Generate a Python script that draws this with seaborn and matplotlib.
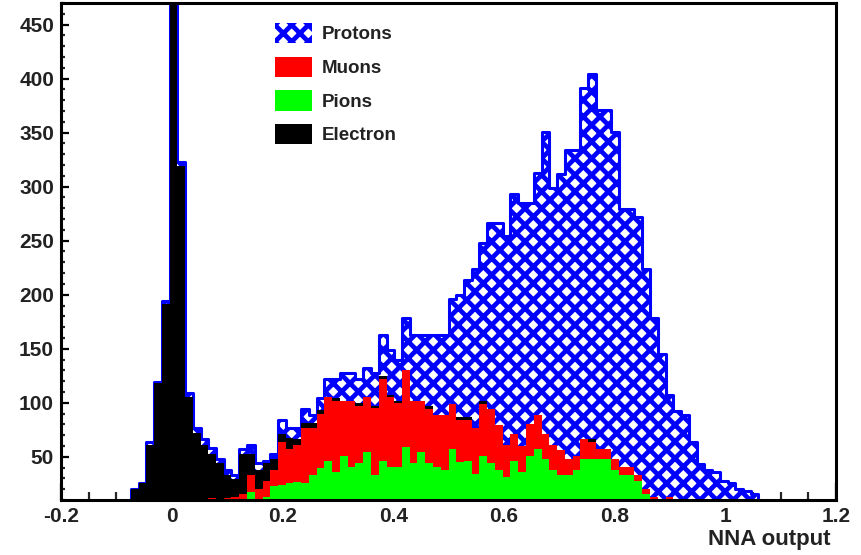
import numpy as np
import pandas as pd
import seaborn as sns
import matplotlib
matplotlib.use("Agg")
import matplotlib.pyplot as plt
from matplotlib.patches import Patch
from matplotlib.ticker import MultipleLocator, FuncFormatter

# ---------------- data (100 bins on [-0.2, 1.2]; values given for bins 9..89) ----------------
x_min, x_max, n_bins = -0.2, 1.2, 100
first_bin = 9

pions = [0, 0, 0, 0, 0, 0, 0, 0, 0, 0, 0, 0, 0, 0, 0,
         17, 5, 13, 23, 24, 26, 27, 26, 33, 40, 46, 36, 51, 41, 44, 54, 33, 46, 41, 41,
         59, 44, 54, 44, 41, 38, 57, 45, 46, 34, 51, 44, 38, 31, 46, 36, 51, 57, 48, 38,
         33, 33, 38, 48, 48, 48, 48, 38, 33, 33, 28, 16,
         0, 0, 0, 0, 0, 0, 0, 0, 0, 0, 0, 0, 0, 0]

muons = [0, 0, 0, 0, 0, 0, 0, 0, 0,
         5, 12, 5, 12, 13, 16, 16, 15, 15, 15, 40, 31, 34, 51, 44, 50, 59, 66, 51, 61,
         53, 51, 62, 76, 64, 59, 71, 58, 48, 50, 48, 51, 42, 39, 38, 43, 48, 50, 41, 30,
         25, 24, 29, 32, 23, 23, 23, 15, 13, 18, 16, 9, 9, 10, 8, 8, 5, 4, 13, 0, 13,
         0, 0, 0, 0, 0, 0, 0, 0, 0, 0, 0]

electrons = [20, 26, 61, 118, 191, 500, 319, 105, 72, 56, 41, 39, 21, 16, 37, 20, 18,
             16, 10, 7, 10, 5, 4, 4, 3, 0, 2, 0, 0, 3, 0, 2, 3, 2, 2, 0, 0, 0, 3, 0,
             0, 0, 3, 3, 0, 3,
             0, 0, 0, 0, 0, 0, 0, 0, 0, 0, 0, 0, 0, 2,
             0, 0, 0, 0, 0, 0, 0, 0, 0, 0, 0, 0, 0, 0, 0, 0, 0, 0, 0, 0, 0]

protons = [0, 0, 3, 1, 3, 2, 4, 4, 5, 5, 5, 4, 5, 4, 4, 8, 6, 2, 5, 13, 10, 11, 13, 8,
           11, 17, 18, 26, 26, 22, 27, 31, 38, 42, 38, 48, 61, 61, 66, 74, 74, 97, 113,
           127, 147, 146, 172, 187, 193, 222, 225, 205, 224, 280, 238, 256, 286, 283,
           325, 338, 314, 314, 303, 238, 238, 239, 204, 165, 145, 94, 92, 89, 64, 43,
           38, 36, 28, 26, 20, 18, 16]

labels = ["Protons", "Muons", "Pions", "Electron"]
x_ticks = [-0.2, 0, 0.2, 0.4, 0.6, 0.8, 1, 1.2]
y_ticks = [50, 100, 150, 200, 250, 300, 350, 400, 450]

# ---------------- styling ----------------
sns.set_theme(style="white")
plt.rcParams["font.family"] = ["Liberation Sans", "DejaVu Sans"]
plt.rcParams["axes.unicode_minus"] = False
plt.rcParams["hatch.linewidth"] = 3.4
plt.rcParams["hatch.color"] = "#0000ff"

edges = np.linspace(x_min, x_max, n_bins + 1)
centers = 0.5 * (edges[:-1] + edges[1:])


def full(arr):
    out = np.zeros(n_bins)
    out[first_bin:first_bin + len(arr)] = arr
    return out


pi_a, mu_a, el_a, pr_a = full(pions), full(muons), full(electrons), full(protons)
# stacked order (bottom -> top): pions, muons, electrons, protons
lvl_pions = pi_a
lvl_muons = lvl_pions + mu_a
lvl_elec = lvl_muons + el_a
lvl_prot = lvl_elec + pr_a

df = pd.DataFrame({"x": centers, "Protons": lvl_prot, "Electron": lvl_elec,
                   "Muons": lvl_muons, "Pions": lvl_pions})

fig = plt.figure(figsize=(8.61, 5.55), dpi=100)
ax = fig.add_axes([61 / 861, 55 / 555, 775 / 861, 497 / 555])

colors = {"Protons": "#0000ff", "Electron": "#000000", "Muons": "#ff0000", "Pions": "#00ff00"}

for name in ["Protons", "Electron", "Muons", "Pions"]:
    n_before = len(ax.collections)
    sns.histplot(data=df, x="x", weights=name, bins=n_bins, binrange=(x_min, x_max),
                 element="step", fill=True, color=colors[name], alpha=1, ax=ax)
    poly = ax.collections[n_before]
    if name == "Protons":
        poly.set_facecolor("white")
        poly.set_edgecolor("#0000ff")
        poly.set_hatch("xx")
        poly.set_linewidth(2.2)
    else:
        poly.set_facecolor(colors[name])
        poly.set_edgecolor(colors[name])
        poly.set_linewidth(0.0)

ax.set_xlim(x_min, x_max)
ax.set_ylim(10, 470)
ax.set_ylabel("")

# frame and ticks (ROOT style)
for sp in ax.spines.values():
    sp.set_visible(True)
    sp.set_color("black")
    sp.set_linewidth(2.2)

ax.set_xticks(x_ticks)
ax.set_yticks(y_ticks)
ax.xaxis.set_minor_locator(MultipleLocator(0.05))
ax.yaxis.set_minor_locator(MultipleLocator(10))
fmt = FuncFormatter(lambda v, p: f"{v:g}")
ax.xaxis.set_major_formatter(fmt)
ax.yaxis.set_major_formatter(fmt)
ax.tick_params(axis="x", which="major", direction="in", length=12, width=1.6,
               bottom=True, top=False, pad=5, labelsize=15, colors="black")
ax.tick_params(axis="x", which="minor", direction="in", length=6, width=1.6,
               bottom=True, top=False)
ax.tick_params(axis="y", which="major", direction="in", length=6, width=1.6,
               left=True, right=False, pad=5, labelsize=15, colors="black")
ax.tick_params(axis="y", which="minor", direction="in", length=3.2, width=1.6,
               left=True, right=False)
for lab in ax.get_xticklabels() + ax.get_yticklabels():
    lab.set_fontweight("bold")
    lab.set_color("#222222")

ax.set_xlabel("NNA output", loc="right", fontsize=16, fontweight="bold", color="#222222")
ax.xaxis.set_label_coords(0.9935, -0.058)

# legend
handles = [
    Patch(facecolor="white", edgecolor="#0000ff", hatch="xx", linewidth=0),
    Patch(facecolor="#ff0000", edgecolor="#ff0000", linewidth=0),
    Patch(facecolor="#00ff00", edgecolor="#00ff00", linewidth=0),
    Patch(facecolor="#000000", edgecolor="#000000", linewidth=0),
]
leg = ax.legend(handles, labels, loc="upper left", bbox_to_anchor=(0.276, 0.96),
                frameon=False, borderpad=0, borderaxespad=0, handlelength=2.0,
                handleheight=1.3, handletextpad=0.5, labelspacing=0.7,
                prop={"family": ["Liberation Sans", "DejaVu Sans"], "weight": "bold",
                      "size": 13.5})
for t in leg.get_texts():
    t.set_color("#222222")

fig.savefig("out.png", dpi=100)
